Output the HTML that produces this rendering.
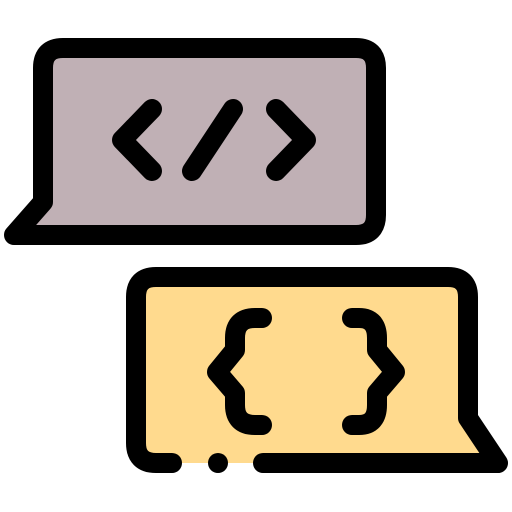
<!DOCTYPE html>
<html><head><style>html,body{margin:0;padding:0;background:#fff}svg{display:block}</style></head>
<body>
<svg width="512" height="512" viewBox="0 0 512 512" xmlns="http://www.w3.org/2000/svg">
<g stroke="#000" stroke-width="20" stroke-linecap="round" stroke-linejoin="round">
<path d="M63 48 H356 Q376 48 376 68 V215 Q376 235 356 235 H14 L43 202 V68 Q43 48 63 48 Z" fill="#C0B0B5"/>
<path d="M152 109 L122 140 L152 171 M233 109 L192 171 M276 109 L306 140 L276 171" fill="none"/>
<path d="M156 277 H448 Q468 277 468 297 V418 L498 463 H156 Q136 463 136 443 V297 Q136 277 156 277 Z" fill="#FFDA8E" stroke="none"/>
<path d="M172 463 H156 Q136 463 136 443 V297 Q136 277 156 277 H448 Q468 277 468 297 V418 L498 463 H263" fill="none"/>
<path d="M262 318 H255 Q235 318 235 338 V350 L217 372 L235 393 V405 Q235 425 255 425 H262" fill="none"/>
<path d="M352 318 H359 Q377 318 377 338 V350 L395 372 L377 393 V405 Q377 425 359 425 H352" fill="none"/>
</g>
<circle cx="218" cy="463" r="10" fill="#000"/>
</svg>
</body></html>
